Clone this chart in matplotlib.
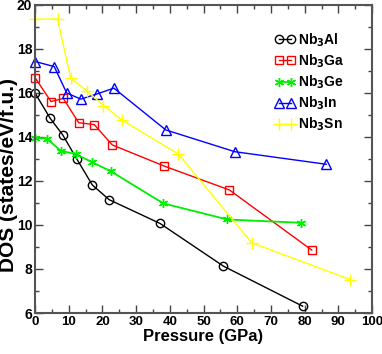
import matplotlib
matplotlib.use("Agg")
import matplotlib.pyplot as plt
from matplotlib.ticker import MultipleLocator

plt.rcParams['font.family'] = ['Liberation Sans', 'DejaVu Sans']
plt.rcParams['font.weight'] = 'bold'

p_al = [0, 4.5, 8.2, 12.4, 17.0, 22.0, 37.1, 55.9, 79.4]
dos_al = [16.0, 14.85, 14.1, 13.0, 11.82, 11.15, 10.07, 8.13, 6.31]

p_ga = [0, 4.75, 8.4, 12.95, 17.6, 22.9, 38.3, 57.7, 82.1]
dos_ga = [16.7, 15.61, 15.75, 14.65, 14.56, 13.64, 12.68, 11.59, 8.86]

p_ge = [0, 3.5, 7.6, 12.2, 17.0, 22.5, 38.1, 57.1, 78.9]
dos_ge = [13.96, 13.93, 13.38, 13.21, 12.85, 12.44, 10.98, 10.25, 10.10]

p_in = [0, 5.7, 9.4, 13.6, 18.3, 23.4, 38.8, 59.3, 86.4]
dos_in = [17.43, 17.2, 16.0, 15.72, 15.95, 16.22, 14.32, 13.33, 12.76]

p_sn = [0, 6.7, 10.6, 15.3, 20.3, 25.7, 42.5, 64.3, 93.5]
dos_sn = [19.35, 19.36, 16.66, 16.11, 15.43, 14.78, 13.23, 9.19, 7.52]

labels = ['Nb$_3$Al', 'Nb$_3$Ga', 'Nb$_3$Ge', 'Nb$_3$In', 'Nb$_3$Sn']

fig = plt.figure(figsize=(3.82, 3.54), dpi=100)
ax = fig.add_axes([0.0916, 0.1158, 0.974 - 0.0916, 0.986 - 0.1158])

ax.plot(p_al, dos_al, color='black', marker='o', mfc='none', ms=6, lw=1, mew=1, label=labels[0], clip_on=False)
ax.plot(p_ga, dos_ga, color='red', marker='s', mfc='none', ms=6, lw=1, mew=1, label=labels[1], clip_on=False)
ax.plot(p_ge, dos_ge, color='#00ee00', marker=(6, 2, 0), ms=6.5, lw=1.3, mew=1, label=labels[2], clip_on=False)
ax.plot(p_in, dos_in, color='blue', marker='^', mfc='none', ms=6.5, lw=1, mew=1, label=labels[3], clip_on=False)
ax.plot(p_sn, dos_sn, color='yellow', marker='+', ms=9, lw=1, mew=1, label=labels[4], clip_on=False)

ax.set_xlim(0, 100)
ax.set_ylim(6, 20)
ax.xaxis.set_major_locator(MultipleLocator(10))
ax.xaxis.set_minor_locator(MultipleLocator(5))
ax.yaxis.set_major_locator(MultipleLocator(2))
ax.yaxis.set_minor_locator(MultipleLocator(1))
ax.tick_params(which='both', direction='in', top=True, right=True, colors='#444444', labelcolor='black', labelsize=10, width=1)
ax.tick_params(which='major', length=6, pad=2)
ax.tick_params(which='minor', length=3)
ax.tick_params(axis='x', labelsize=9.5)
for s in ax.spines.values():
    s.set_color('#555555')
    s.set_linewidth(1.5)

ax.set_xlabel('Pressure (GPa)', fontsize=12, fontweight='bold', labelpad=1)
ax.set_ylabel('DOS (states/eV/f.u.)', fontsize=15, fontweight='bold')
ax.yaxis.set_label_coords(-0.05, 0.448)

leg = ax.legend(loc='upper left', bbox_to_anchor=(0.712, 0.915), frameon=False, fontsize=10,
                numpoints=2, handlelength=1.45, handletextpad=0.2, labelspacing=0.27,
                borderpad=0, borderaxespad=0)

fig.savefig('out.png', dpi=100)
